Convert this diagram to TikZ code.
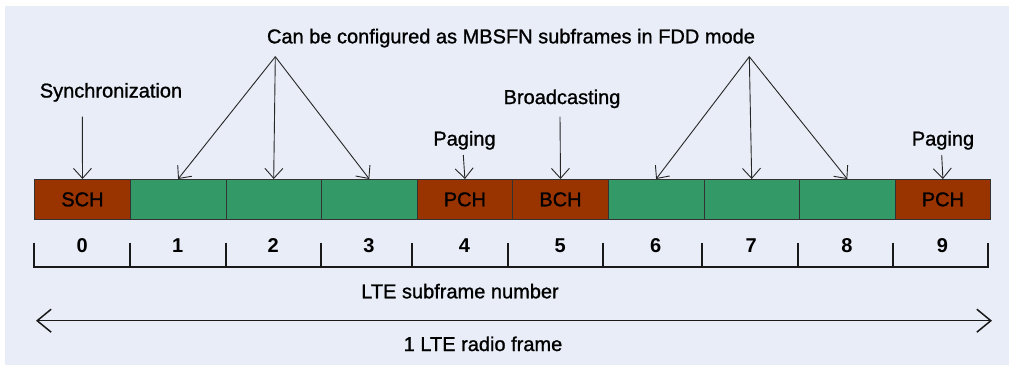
\documentclass[tikz,border=0pt]{standalone}
\usepackage{fontspec}
\setmainfont{Liberation Sans}
\newfontfamily\semib{Liberation Sans}[FakeBold=1.1]
\usetikzlibrary{arrows.meta}
\definecolor{bg}{RGB}{232,237,247}
\definecolor{brn}{RGB}{153,51,0}
\definecolor{grn}{RGB}{51,153,102}
\begin{document}
\begin{tikzpicture}[x=1pt,y=-1pt,
  cell/.style={draw=black!80, line width=0.8pt, minimum width=95.6pt, minimum height=40pt, inner sep=0pt, anchor=north west, font=\fontsize{20}{24}\semib},
  chcell/.style={cell, fill=brn},
  mbcell/.style={cell, fill=grn},
  lbl/.style={anchor=base, inner sep=0pt, font=\fontsize{20}{24}\semib},
  num/.style={anchor=base, inner sep=0pt, font=\fontsize{20}{24}\selectfont\bfseries},
  ptr/.style={draw=black!85, line width=0.9pt, -{Straight Barb[length=10pt,width=18pt]}},
  scaleline/.style={line width=2pt, draw=black!90},
]
\useasboundingbox (0,0) rectangle (1009,365);
\fill[bg] (5,6) rectangle (1009,365);

% subframe cells
\node[chcell] (c0) at (34.3,179) {SCH};
\node[mbcell] (c1) at (129.9,179) {};
\node[mbcell] (c2) at (225.5,179) {};
\node[mbcell] (c3) at (321.1,179) {};
\node[chcell] (c4) at (416.7,179) {PCH};
\node[chcell] (c5) at (512.3,179) {BCH};
\node[mbcell] (c6) at (607.9,179) {};
\node[mbcell] (c7) at (703.5,179) {};
\node[mbcell] (c8) at (799.1,179) {};
\node[chcell] (c9) at (894.7,179) {PCH};

% labels
\node[lbl] (title) at (511,43.3) {Can be configured as MBSFN subframes in FDD mode};
\node[lbl] (sync) at (111,97.5) {Synchronization};
\node[lbl] (pag1) at (464.5,145.5) {Paging};
\node[lbl] (bcast) at (562,104) {Broadcasting};
\node[lbl] (pag2) at (943,145.5) {Paging};

\coordinate (fanL) at (275.3,56.7);
\coordinate (fanR) at (749.3,56.7);
\coordinate (syncS) at (82.3,116.7);
\coordinate (pag1S) at (463.3,155);
\coordinate (bcastS) at (560,116.7);
\coordinate (pag2S) at (941.7,155);

\draw[ptr] (syncS) -- (c0.north);
\draw[ptr] (pag1S) -- (c4.north);
\draw[ptr] (bcastS) -- (c5.north);
\draw[ptr] (pag2S) -- (c9.north);
\foreach \c in {c1,c2,c3} \draw[ptr] (fanL) -- (\c.north);
\foreach \c in {c6,c7,c8} \draw[ptr] (fanR) -- (\c.north);

% numbering scale
\draw[scaleline] (34,266.7) -- (988,266.7);
\foreach \x in {34,129.7,225.7,320.7,412,507.7,603,702.3,797.7,893,988}
  \draw[scaleline] (\x,242.7) -- (\x,267.7);
\foreach \k in {0,...,9}
  \node[num] (n\k) at ({34.3+95.6*(\k+0.5)},252) {\k};

\node[lbl] (subnum) at (460,298.3) {LTE subframe number};

% radio frame arrow
\coordinate (fa) at (36,320.7);
\coordinate (fb) at (992,320.7);
\draw[line width=1.5pt, draw=black!90, {Straight Barb[length=14pt,width=23pt]}-{Straight Barb[length=14pt,width=23pt]}] (fa) -- (fb);
\node[lbl] (radio) at (483,351) {1 LTE radio frame};
\end{tikzpicture}
\end{document}
